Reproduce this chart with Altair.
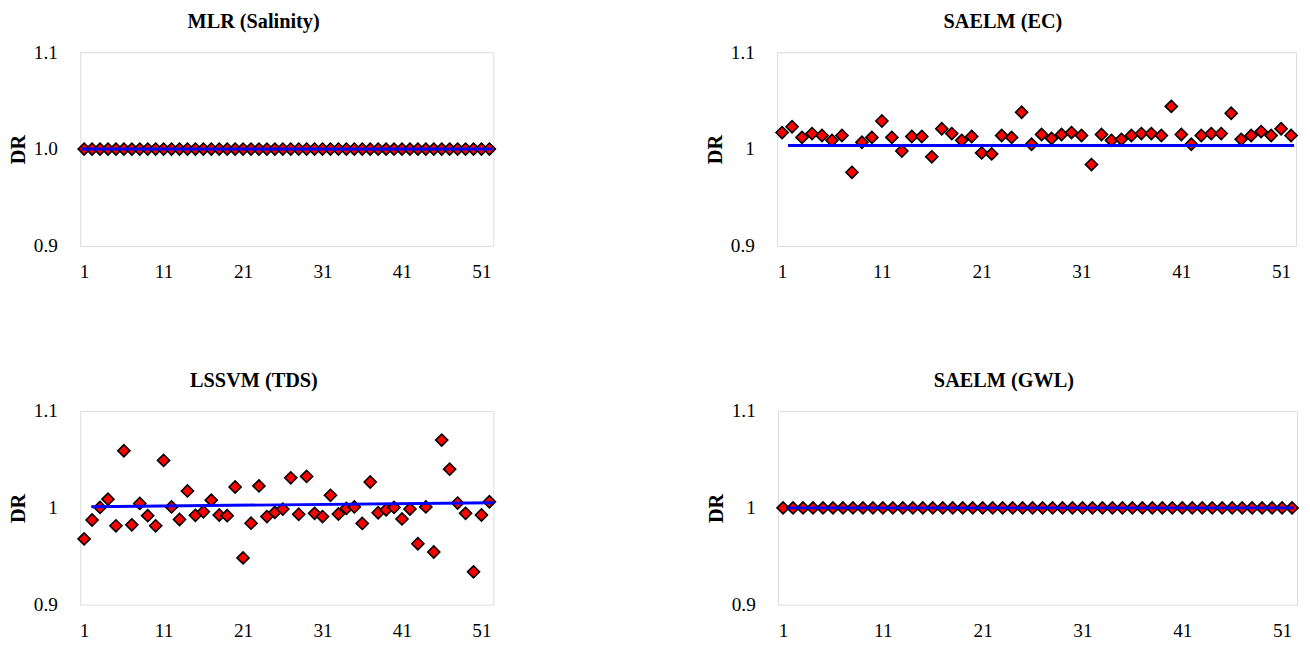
import altair as alt
import pandas as pd

FONT = "Times New Roman"

idx = list(range(1, 53))

mlr_salinity = [1.0, 1.0, 1.0, 1.0, 1.0, 1.0, 1.0, 1.0, 1.0, 1.0, 1.0, 1.0, 1.0,
                1.0, 1.0, 1.0, 1.0, 1.0, 1.0, 1.0, 1.0, 1.0, 1.0, 1.0, 1.0, 1.0,
                1.0, 1.0, 1.0, 1.0, 1.0, 1.0, 1.0, 1.0, 1.0, 1.0, 1.0, 1.0, 1.0,
                1.0, 1.0, 1.0, 1.0, 1.0, 1.0, 1.0, 1.0, 1.0, 1.0, 1.0, 1.0, 1.0]

saelm_ec = [1.017, 1.023, 1.012, 1.016, 1.014, 1.009, 1.014, 0.976, 1.007, 1.012,
            1.029, 1.012, 0.998, 1.013, 1.013, 0.992, 1.021, 1.016, 1.009, 1.013,
            0.996, 0.995, 1.014, 1.012, 1.038, 1.005, 1.015, 1.011, 1.015, 1.017,
            1.014, 0.984, 1.015, 1.009, 1.010, 1.014, 1.016, 1.016, 1.014, 1.044,
            1.015, 1.005, 1.014, 1.016, 1.016, 1.037, 1.010, 1.014, 1.018, 1.014,
            1.021, 1.014]

lssvm_tds = [0.968, 0.9875, 1.0005, 1.009, 0.9815, 1.059, 0.9825, 1.0046, 0.992, 0.9815,
             1.049, 1.001, 0.988, 1.0175, 0.9923, 0.996, 1.008, 0.9927, 0.992, 1.0216,
             0.9484, 0.9842, 1.0227, 0.991, 0.9954, 0.9988, 1.031, 0.9934, 1.0325, 0.9944,
             0.991, 1.013, 0.9937, 0.9995, 1.001, 0.984, 1.0267, 0.995, 0.998, 1.0005,
             0.9886, 0.9988, 0.963, 1.001, 0.9545, 1.070, 1.040, 1.005, 0.9944, 0.934,
             0.9927, 1.0063]

saelm_gwl = [1.0, 1.0, 1.0, 1.0, 1.0, 1.0, 1.0, 1.0, 1.0, 1.0, 1.0, 1.0, 1.0,
             1.0, 1.0, 1.0, 1.0, 1.0, 1.0, 1.0, 1.0, 1.0, 1.0, 1.0, 1.0, 1.0,
             1.0, 1.0, 1.0, 1.0, 1.0, 1.0, 1.0, 1.0, 1.0, 1.0, 1.0, 1.0, 1.0,
             1.0, 1.0, 1.0, 1.0, 1.0, 1.0, 1.0, 1.0, 1.0, 1.0, 1.0, 1.0, 1.0]

# trend line end points (x, DR)
trend_mlr_x, trend_mlr_y = [0.6, 52.4], [1.0, 1.0]
trend_ec_x, trend_ec_y = [1.6, 52.3], [1.0037, 1.0037]
trend_tds_x, trend_tds_y = [1.9, 52.5], [1.0012, 1.0053]
trend_gwl_x, trend_gwl_y = [1.5, 52.2], [1.0, 1.0]

x_ticks = [1, 11, 21, 31, 41, 51]
y_ticks = [0.9, 1.0, 1.1]


def panel(title, vals, tx, ty, width, yfmt):
    df = pd.DataFrame({"i": idx, "dr": vals})
    tdf = pd.DataFrame({"i": tx, "dr": ty})
    xs = alt.Scale(domain=[0.5, 52.5], nice=False, zero=False)
    ys = alt.Scale(domain=[0.9, 1.1], nice=False, zero=False)
    xaxis = alt.Axis(values=x_ticks, grid=False, ticks=False, tickSize=0, domain=False,
                     labelPadding=17, labelFontSize=19.5, labelFont=FONT,
                     labelColor="black", title=None)
    yaxis = alt.Axis(values=y_ticks, format=yfmt, grid=False, ticks=False, tickSize=0,
                     domain=False, labelPadding=23, labelFontSize=19.5, labelFont=FONT,
                     labelColor="black", title="DR", titleFont=FONT, titleFontSize=20.5,
                     titleFontWeight="bold", titleColor="black", titlePadding=5)
    pts = alt.Chart(df).mark_point(
        shape="diamond", filled=True, fill="#ff0000", stroke="black",
        strokeWidth=1.6, size=150, opacity=1
    ).encode(
        x=alt.X("i:Q", scale=xs, axis=xaxis),
        y=alt.Y("dr:Q", scale=ys, axis=yaxis),
    )
    line = alt.Chart(tdf).mark_line(color="#0000ff", strokeWidth=3).encode(
        x=alt.X("i:Q", scale=xs),
        y=alt.Y("dr:Q", scale=ys),
    )
    return alt.layer(pts, line).properties(
        width=width, height=196,
        title=alt.TitleParams(title, font=FONT, fontSize=20.5, fontWeight="bold",
                              color="black", anchor="middle", frame="bounds", offset=10),
    )


p1 = panel("MLR (Salinity)", mlr_salinity, trend_mlr_x, trend_mlr_y, 418, ".1f")
p2 = panel("SAELM (EC)", saelm_ec, trend_ec_x, trend_ec_y, 525, ".1~f")
p3 = panel("LSSVM (TDS)", lssvm_tds, trend_tds_x, trend_tds_y, 418, ".1~f")
p4 = panel("SAELM (GWL)", saelm_gwl, trend_gwl_x, trend_gwl_y, 525, ".1~f")

row1 = alt.hconcat(p1, p2, spacing=208)
row2 = alt.hconcat(p3, p4, spacing=208)
chart = alt.vconcat(row1, row2, spacing=90).properties(padding=0).configure_view(
    stroke="#d9d9d9", strokeWidth=2
).configure(background="white")

chart.save("out.html", embed_options={"renderer": "svg", "actions": False})
